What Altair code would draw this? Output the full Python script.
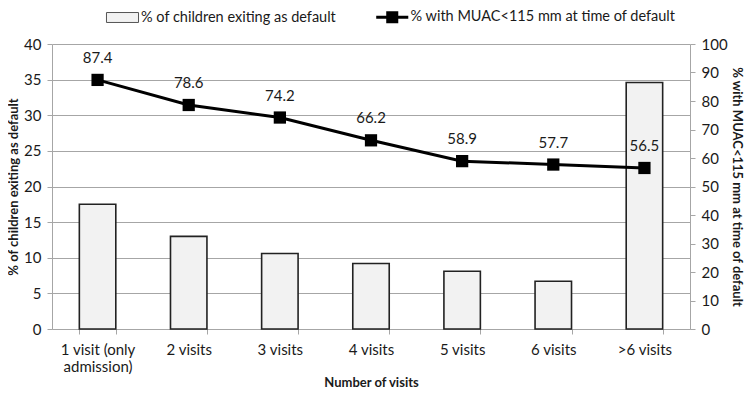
import altair as alt
import pandas as pd

categories = ["1 visit (only admission)", "2 visits", "3 visits", "4 visits",
              "5 visits", "6 visits", ">6 visits"]
default_pct = [17.5, 13.0, 10.6, 9.2, 8.1, 6.7, 34.6]
muac_pct = [87.4, 78.6, 74.2, 66.2, 58.9, 57.7, 56.5]

bar_name = "% of children exiting as default"
line_name = "% with MUAC<115 mm at time of default"

df = pd.DataFrame({
    "visits": categories,
    "default": default_pct,
    "muac": muac_pct,
    "bar_series": bar_name,
    "line_series": line_name,
})

FONT = "Lato"
GRID = "#a6a6a6"
TXT = "#1a1a1a"

x = alt.X(
    "visits:N",
    sort=categories,
    scale=alt.Scale(paddingInner=0.6, paddingOuter=0.3),
    axis=alt.Axis(
        title="Number of visits",
        labelAngle=0,
        tickBand="extent",
        tickSize=5,
        tickColor=GRID,
        domainColor=GRID,
        labelPadding=8,
        labelFontSize=15,
        labelLineHeight=17,
        labelColor=TXT,
        labelFont=FONT,
        labelExpr="datum.value == '1 visit (only admission)' ? ['1 visit (only', 'admission)'] : datum.label",
        titleFont=FONT,
        titleFontSize=13,
        titleFontWeight="bold",
        titleColor=TXT,
        titlePadding=2,
        grid=False,
    ),
)

bars = alt.Chart(df).mark_bar(stroke="#222222", strokeWidth=1.6).encode(
    x=x,
    y=alt.Y(
        "default:Q",
        scale=alt.Scale(domain=[0, 40]),
        axis=alt.Axis(
            title="% of children exiting as default",
            values=[0, 5, 10, 15, 20, 25, 30, 35, 40],
            grid=True,
            gridColor=GRID,
            domainColor=GRID,
            tickColor=GRID,
            tickSize=5,
            labelPadding=6,
            labelFontSize=15,
            labelColor=TXT,
            labelFont=FONT,
            titleFont=FONT,
            titleFontSize=13,
            titleFontWeight="bold",
            titleColor=TXT,
            titlePadding=3,
        ),
    ),
    fill=alt.Fill(
        "bar_series:N",
        scale=alt.Scale(domain=[bar_name], range=["#f2f2f2"]),
        legend=alt.Legend(
            title=None,
            orient="none",
            legendX=63,
            legendY=-34,
            padding=0,
            symbolType="M-2.29,-0.71H2.29V0.71H-2.29Z",
            symbolSize=196,
            symbolStrokeColor="#555555",
            symbolStrokeWidth=1,
            labelFont=FONT,
            labelFontSize=14.5,
            labelColor=TXT,
            labelOffset=11,
            labelLimit=0,
        ),
    ),
)

y2 = alt.Y(
    "muac:Q",
    scale=alt.Scale(domain=[0, 100]),
    axis=alt.Axis(
        orient="right",
        title="% with MUAC<115 mm at time of default",
        values=[0, 10, 20, 30, 40, 50, 60, 70, 80, 90, 100],
        grid=False,
        domainColor=GRID,
        tickColor=GRID,
        tickSize=5,
        labelPadding=6,
        labelFontSize=15,
        labelColor=TXT,
        labelFont=FONT,
        titleFont=FONT,
        titleFontSize=13,
        titleFontWeight="bold",
        titleColor=TXT,
        titlePadding=2,
    ),
)

line = alt.Chart(df).mark_line(color="black", strokeWidth=3).encode(
    x=x,
    y=y2,
    stroke=alt.Stroke(
        "line_series:N",
        scale=alt.Scale(domain=[line_name], range=["black"]),
        legend=alt.Legend(
            title=None,
            orient="none",
            legendX=333,
            legendY=-34,
            padding=0,
            symbolType="M-2.29,-0.21H2.29V0.21H-2.29Z M-0.86,-0.86H0.86V0.86H-0.86Z",
            symbolSize=196,
            symbolFillColor="black",
            symbolStrokeWidth=0,
            labelFont=FONT,
            labelFontSize=14.5,
            labelColor=TXT,
            labelOffset=11,
            labelLimit=0,
        ),
    ),
)

points = alt.Chart(df).mark_point(
    shape="square", filled=True, size=150, color="black", opacity=1
).encode(x=x, y=y2)

labels = alt.Chart(df).mark_text(
    dy=-22, font=FONT, fontSize=15, color=TXT
).encode(x=x, y=y2, text=alt.Text("muac:Q", format=".1f"))

chart = (
    alt.layer(bars, line + points + labels)
    .resolve_scale(y="independent")
    .properties(
        width=638,
        height=285,
        autosize=alt.AutoSizeParams(type="none"),
        padding={"left": 44, "top": 36, "right": 54, "bottom": 64},
        background="white",
    )
    .configure_view(stroke=None)
)

chart.save("out.html", embed_options={"renderer": "svg", "actions": False})
